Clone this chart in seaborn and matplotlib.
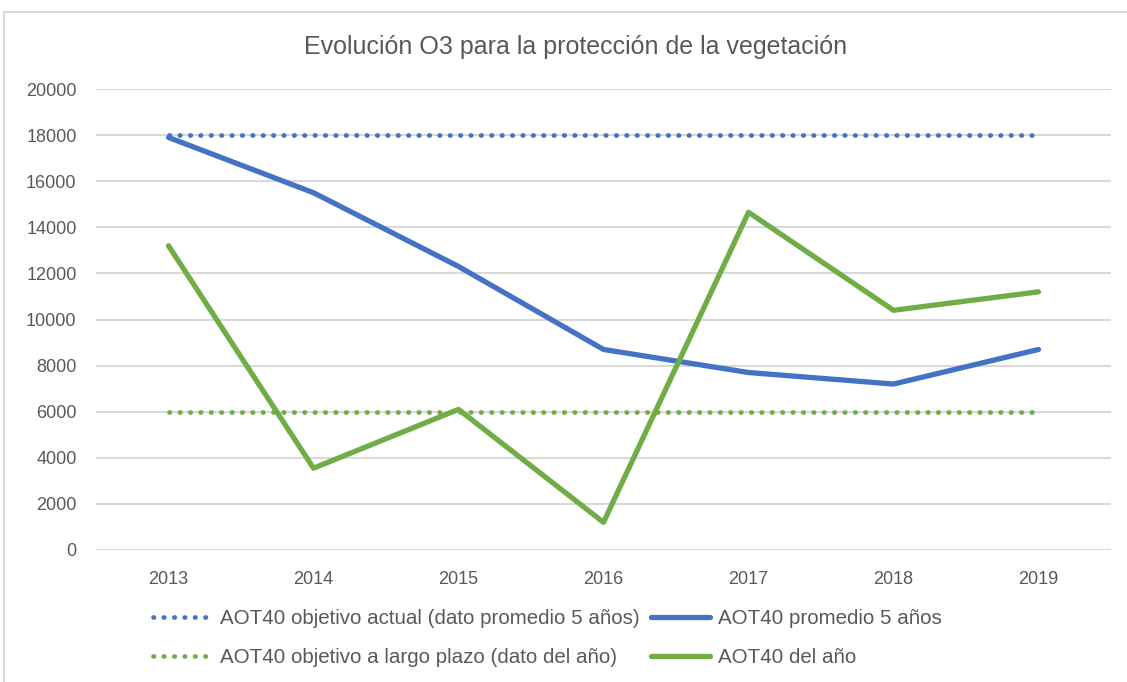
import matplotlib
matplotlib.use("Agg")
import matplotlib.pyplot as plt
import seaborn as sns
import pandas as pd
from matplotlib.patches import Rectangle

# Datos
years = ["2013", "2014", "2015", "2016", "2017", "2018", "2019"]
aot40_promedio_5 = [17900, 15500, 12300, 8700, 7700, 7200, 8700]
aot40_del_ano = [13200, 3550, 6100, 1200, 14650, 10400, 11200]
objetivo_actual = [18000, 18000, 18000, 18000, 18000, 18000, 18000]
objetivo_largo = [6000, 6000, 6000, 6000, 6000, 6000, 6000]

labels = {
    "obj_actual": "AOT40 objetivo actual (dato promedio 5 años)",
    "obj_largo": "AOT40 objetivo a largo plazo (dato del año)",
    "prom5": "AOT40 promedio 5 años",
    "anual": "AOT40 del año",
}

azul = "#4472C4"
verde = "#70AD47"
gris_texto = "#595959"

sns.set_style("white")
plt.rcParams["font.family"] = ["Liberation Sans", "DejaVu Sans"]

df = pd.DataFrame({
    "x": range(len(years)),
    "obj_actual": objetivo_actual,
    "obj_largo": objetivo_largo,
    "prom5": aot40_promedio_5,
    "anual": aot40_del_ano,
})

fig = plt.figure(figsize=(11.27, 6.82), dpi=100)
ax = fig.add_axes([96 / 1127, 1 - 550 / 682, (1111 - 96) / 1127, (550 - 89) / 682])

dotted = (0, (0.1, 2.1))
sns.lineplot(data=df, x="x", y="obj_actual", ax=ax, color=azul, lw=3.4,
             linestyle=dotted, dash_capstyle="round", label=labels["obj_actual"])
sns.lineplot(data=df, x="x", y="obj_largo", ax=ax, color=verde, lw=3.4,
             linestyle=dotted, dash_capstyle="round", label=labels["obj_largo"])
sns.lineplot(data=df, x="x", y="prom5", ax=ax, color=azul, lw=3.8,
             solid_capstyle="round", label=labels["prom5"])
sns.lineplot(data=df, x="x", y="anual", ax=ax, color=verde, lw=3.8,
             solid_capstyle="round", label=labels["anual"])

ax.set_xlim(-0.5, len(years) - 0.5)
ax.set_ylim(0, 20000)
ax.set_yticks(range(0, 20001, 2000))
ax.set_xticks(range(len(years)))
ax.set_xticklabels(years)
ax.set_xlabel("")
ax.set_ylabel("")
ax.grid(axis="y", color="#d9d9d9", lw=1.5)
ax.set_axisbelow(True)
for s in ax.spines.values():
    s.set_visible(False)
ax.tick_params(axis="both", length=0, labelsize=13, labelcolor=gris_texto)
ax.tick_params(axis="y", pad=14)
ax.tick_params(axis="x", pad=15)

fig.text(576 / 1127, 1 - 47 / 682, "Evolución O3 para la protección de la vegetación",
         ha="center", va="center", fontsize=18, color=gris_texto)

ax.legend(ncol=2, loc="center left", bbox_to_anchor=(145 / 1127, 1 - 638 / 682),
          bbox_transform=fig.transFigure, frameon=False, fontsize=14.8,
          labelcolor=gris_texto, handlelength=2.85, handletextpad=0.4,
          columnspacing=0.55, labelspacing=0.95, borderaxespad=0)

fig.patches.append(Rectangle((4 / 1127, -0.1), 1.2, 1 - 12 / 682 + 0.1,
                             transform=fig.transFigure, fill=False,
                             edgecolor="#d9d9d9", lw=1.5))

fig.savefig("out.png", dpi=100, facecolor="white")
